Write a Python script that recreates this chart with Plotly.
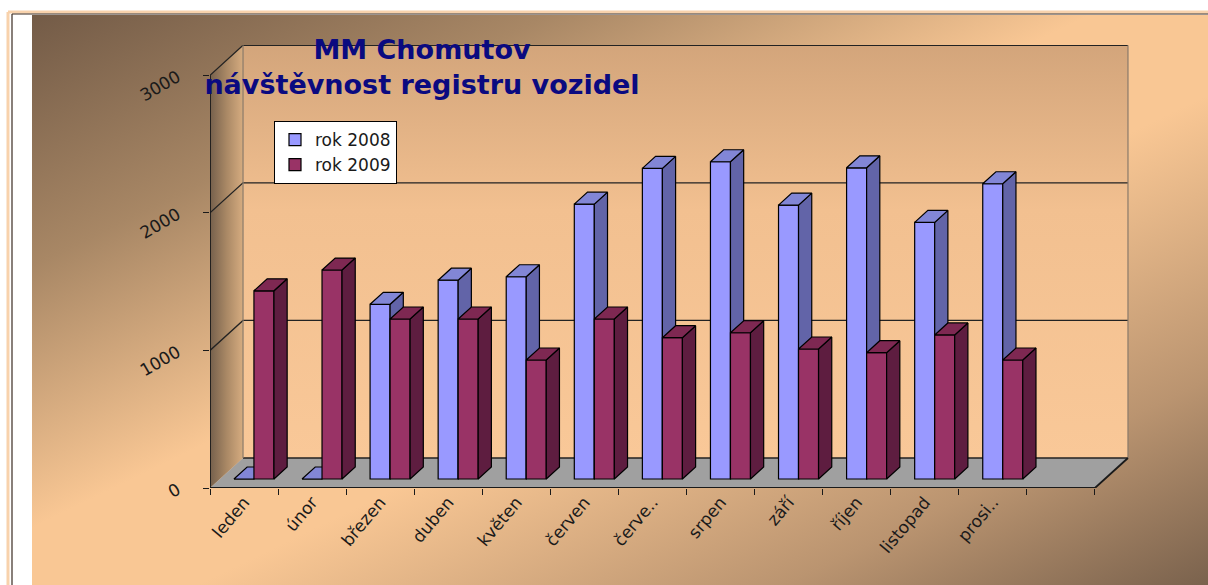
import base64
import plotly.graph_objects as go

# ---------------- data ----------------
months = ["leden", "únor", "březen", "duben", "květen", "červen",
          "červe..", "srpen", "září", "říjen", "listopad", "prosi.."]
rok2008 = [0, 0, 1270, 1445, 1470, 1998, 2258, 2306, 1991, 2262, 1865, 2146]
rok2009 = [1368, 1519, 1163, 1163, 865, 1163, 1027, 1063, 945, 918, 1047, 865]
series_names = ["rok 2008", "rok 2009"]
y_ticks = [0, 1000, 2000, 3000]

# ---------------- geometry / style ----------------
FIG_W, FIG_H = 1208, 585
ML, MR, MT, MB = 210, 79, 45, 97
PW, PH = FIG_W - ML - MR, FIG_H - MT - MB
N_SLOTS = len(months) + 1          # floor is one slot wider than the data
X_RANGE = [-0.5, N_SLOTS - 0.5 + 0.5]
Y_MAX = y_ticks[-1]
Y_RANGE = [0, 3220]

DEPTH_X, DEPTH_Y = 0.485, 218.0     # oblique depth of the 3D box
BAR_W = 0.294
BAR_X0, BAR_Y0 = 0.3 * DEPTH_X, 0.3 * DEPTH_Y
BAR_DX, BAR_DY = 0.4 * DEPTH_X, 0.4 * DEPTH_Y

FONT = "DejaVu Sans"
DARK = "#1a1a1a"
front_cols = ["#9999FF", "#993366"]
side_cols = ["#6264A8", "#5E1D40"]
top_cols = ["#8286D6", "#7E2852"]


def px2x(px):
    return (px - ML) / PW


def py2y(py):
    return (FIG_H - MB - py) / PH


xL, xR = -0.5, N_SLOTS - 0.5
fig = go.Figure()

# ---- walls & floor (base subplot) ----
bx0, bx1 = xL + DEPTH_X, xR + DEPTH_X
fig.add_trace(go.Scatter(
    x=[bx0, bx1, bx1, bx0, bx0], y=[DEPTH_Y, DEPTH_Y, Y_MAX + DEPTH_Y, Y_MAX + DEPTH_Y, DEPTH_Y],
    fill="toself", mode="lines", line=dict(width=0),
    fillgradient=dict(type="vertical",
                      colorscale=[[0, "#F9C898"], [0.6, "#F2C090"], [1, "#D3A57B"]]),
    hoverinfo="skip", showlegend=False))
fig.add_trace(go.Scatter(
    x=[xL, xL, bx0, bx0, xL], y=[0, Y_MAX, Y_MAX + DEPTH_Y, DEPTH_Y, 0],
    fill="toself", mode="lines", line=dict(width=0),
    fillgradient=dict(type="horizontal",
                      colorscale=[[0, "#75604C"], [0.5, "#A98865"], [1, "#D6AC80"]]),
    hoverinfo="skip", showlegend=False))
fig.add_trace(go.Scatter(
    x=[xL, xR, bx1, bx0, xL], y=[0, 0, DEPTH_Y, DEPTH_Y, 0],
    fill="toself", mode="lines", line=dict(width=0), fillcolor="#A0A0A0",
    hoverinfo="skip", showlegend=False))

# grid lines on left and back wall
gx, gy = [], []
for v in y_ticks[1:]:
    gx += [xL, bx0, bx1, None]
    gy += [v, v + DEPTH_Y, v + DEPTH_Y, None]
gx += [bx0, bx1, None]
gy += [DEPTH_Y, DEPTH_Y, None]
fig.add_trace(go.Scatter(x=gx, y=gy, mode="lines", line=dict(color="#222222", width=1.3),
                         hoverinfo="skip", showlegend=False))
fig.add_trace(go.Scatter(x=[bx0, bx0, None, bx1, bx1], y=[DEPTH_Y, Y_MAX + DEPTH_Y, None, DEPTH_Y, Y_MAX + DEPTH_Y],
                         mode="lines", line=dict(color="#8a7a6a", width=1.2),
                         hoverinfo="skip", showlegend=False))
fig.add_trace(go.Scatter(x=[xL, xL, None, xL, xR, bx1], y=[Y_MAX, 0, None, 0, 0, DEPTH_Y],
                         mode="lines", line=dict(color=DARK, width=1.8),
                         hoverinfo="skip", showlegend=False))

# ---- bars (front faces + side + top), each series in its own overlay subplot ----
xs = list(range(len(months)))
for k, (vals, name) in enumerate(zip([rok2008, rok2009], series_names)):
    ax = str(k + 2)
    off = BAR_X0 - BAR_W + k * BAR_W
    fig.add_trace(go.Bar(
        x=xs, y=vals, base=BAR_Y0, offset=off, width=BAR_W, name=name,
        marker=dict(color=front_cols[k], line=dict(color="black", width=1.2)),
        xaxis="x" + ax, yaxis="y" + ax))
    sx, sy, tx, ty = [], [], [], []
    for i, v in zip(xs, vals):
        xl = i + off
        xr = xl + BAR_W
        sx += [xr, xr, xr + BAR_DX, xr + BAR_DX, xr, None]
        sy += [BAR_Y0, BAR_Y0 + v, BAR_Y0 + v + BAR_DY, BAR_Y0 + BAR_DY, BAR_Y0, None]
        tx += [xl, xr, xr + BAR_DX, xl + BAR_DX, xl, None]
        ty += [BAR_Y0 + v, BAR_Y0 + v, BAR_Y0 + v + BAR_DY, BAR_Y0 + v + BAR_DY, BAR_Y0 + v, None]
    fig.add_trace(go.Scatter(x=sx, y=sy, fill="toself", fillcolor=side_cols[k], mode="lines",
                             line=dict(color="black", width=1.2), hoverinfo="skip",
                             showlegend=False, xaxis="x" + ax, yaxis="y" + ax))
    fig.add_trace(go.Scatter(x=tx, y=ty, fill="toself", fillcolor=top_cols[k], mode="lines",
                             line=dict(color="black", width=1.2), hoverinfo="skip",
                             showlegend=False, xaxis="x" + ax, yaxis="y" + ax))

# ---- background gradient image ----
svg = ("<svg xmlns='http://www.w3.org/2000/svg' width='1176' height='570' viewBox='0 0 1176 570' "
       "preserveAspectRatio='none'><defs><linearGradient id='g' x1='0' y1='0' x2='1' y2='1'>"
       "<stop offset='0' stop-color='#735B47'/><stop offset='0.22' stop-color='#A88765'/>"
       "<stop offset='0.45' stop-color='#F9C794'/><stop offset='0.57' stop-color='#F9C794'/>"
       "<stop offset='0.82' stop-color='#BA9470'/><stop offset='1' stop-color='#7A624D'/>"
       "</linearGradient></defs><rect width='1176' height='570' fill='url(#g)'/></svg>")
src = "data:image/svg+xml;base64," + base64.b64encode(svg.encode()).decode()

bg_x0, bg_y0 = 32, 15
fig.update_layout(
    images=[dict(source=src, xref="paper", yref="paper", x=px2x(bg_x0), y=py2y(bg_y0),
                 sizex=(FIG_W - bg_x0) / PW, sizey=(FIG_H - bg_y0) / PH,
                 xanchor="left", yanchor="top", sizing="stretch", layer="below")],
    shapes=[
        dict(type="line", xref="paper", yref="paper", x0=px2x(8), x1=px2x(FIG_W), y0=py2y(12), y1=py2y(12),
             line=dict(color="#F8D2AC", width=3)),
        dict(type="line", xref="paper", yref="paper", x0=px2x(8), x1=px2x(8), y0=py2y(12), y1=py2y(FIG_H),
             line=dict(color="#F8D2AC", width=3)),
        dict(type="line", xref="paper", yref="paper", x0=px2x(12), x1=px2x(FIG_W), y0=py2y(14), y1=py2y(14),
             line=dict(color="#3a2a20", width=1.2)),
        dict(type="line", xref="paper", yref="paper", x0=px2x(12), x1=px2x(12), y0=py2y(14), y1=py2y(FIG_H),
             line=dict(color="#3a2a20", width=1.2)),
    ],
)

axis_common = dict(range=X_RANGE, showgrid=False, zeroline=False, fixedrange=True)
fig.update_layout(
    width=FIG_W, height=FIG_H, template="none",
    margin=dict(l=ML, r=MR, t=MT, b=MB, pad=0),
    paper_bgcolor="white", plot_bgcolor="rgba(0,0,0,0)",
    barmode="overlay",
    font=dict(family=FONT, color=DARK),
    title=dict(text="MM Chomutov<br>návštěvnost registru vozidel",
               x=px2x(422), xref="paper", xanchor="center",
               y=py2y(59), yref="paper", yanchor="middle",
               font=dict(family=FONT, size=27, color="#0A0A80", weight="bold")),
    xaxis=dict(**axis_common, tickmode="array", tickvals=xs, ticktext=months, ticks="",
               tickangle=-50, tickfont=dict(size=17, color=DARK), showline=False,
               ticklabelstandoff=0,
               minor=dict(tickmode="array", tickvals=[b - 0.5 for b in range(N_SLOTS + 1)],
                          ticks="outside", ticklen=6, tickwidth=1.3, tickcolor=DARK, showgrid=False)),
    yaxis=dict(range=Y_RANGE, showgrid=False, zeroline=False, fixedrange=True, showline=False,
               tickmode="array", tickvals=y_ticks, ticks="outside", ticklen=6, tickwidth=1.3,
               tickcolor=DARK, tickangle=-30, tickfont=dict(size=17, color=DARK),
               ticklabelstandoff=22),
    xaxis2=dict(**axis_common, overlaying="x", visible=False),
    yaxis2=dict(range=Y_RANGE, overlaying="y", visible=False, fixedrange=True),
    xaxis3=dict(**axis_common, overlaying="x", visible=False),
    yaxis3=dict(range=Y_RANGE, overlaying="y", visible=False, fixedrange=True),
    legend=dict(x=px2x(274), y=py2y(121), xanchor="left", yanchor="top",
                bgcolor="white", bordercolor="black", borderwidth=1,
                font=dict(family=FONT, size=17, color=DARK), tracegroupgap=0,
                itemwidth=30),
    showlegend=True,
)

fig.write_html("out.html", config={"displayModeBar": False},
               post_script="document.body.style.margin='0px';document.body.style.overflow='hidden';")
